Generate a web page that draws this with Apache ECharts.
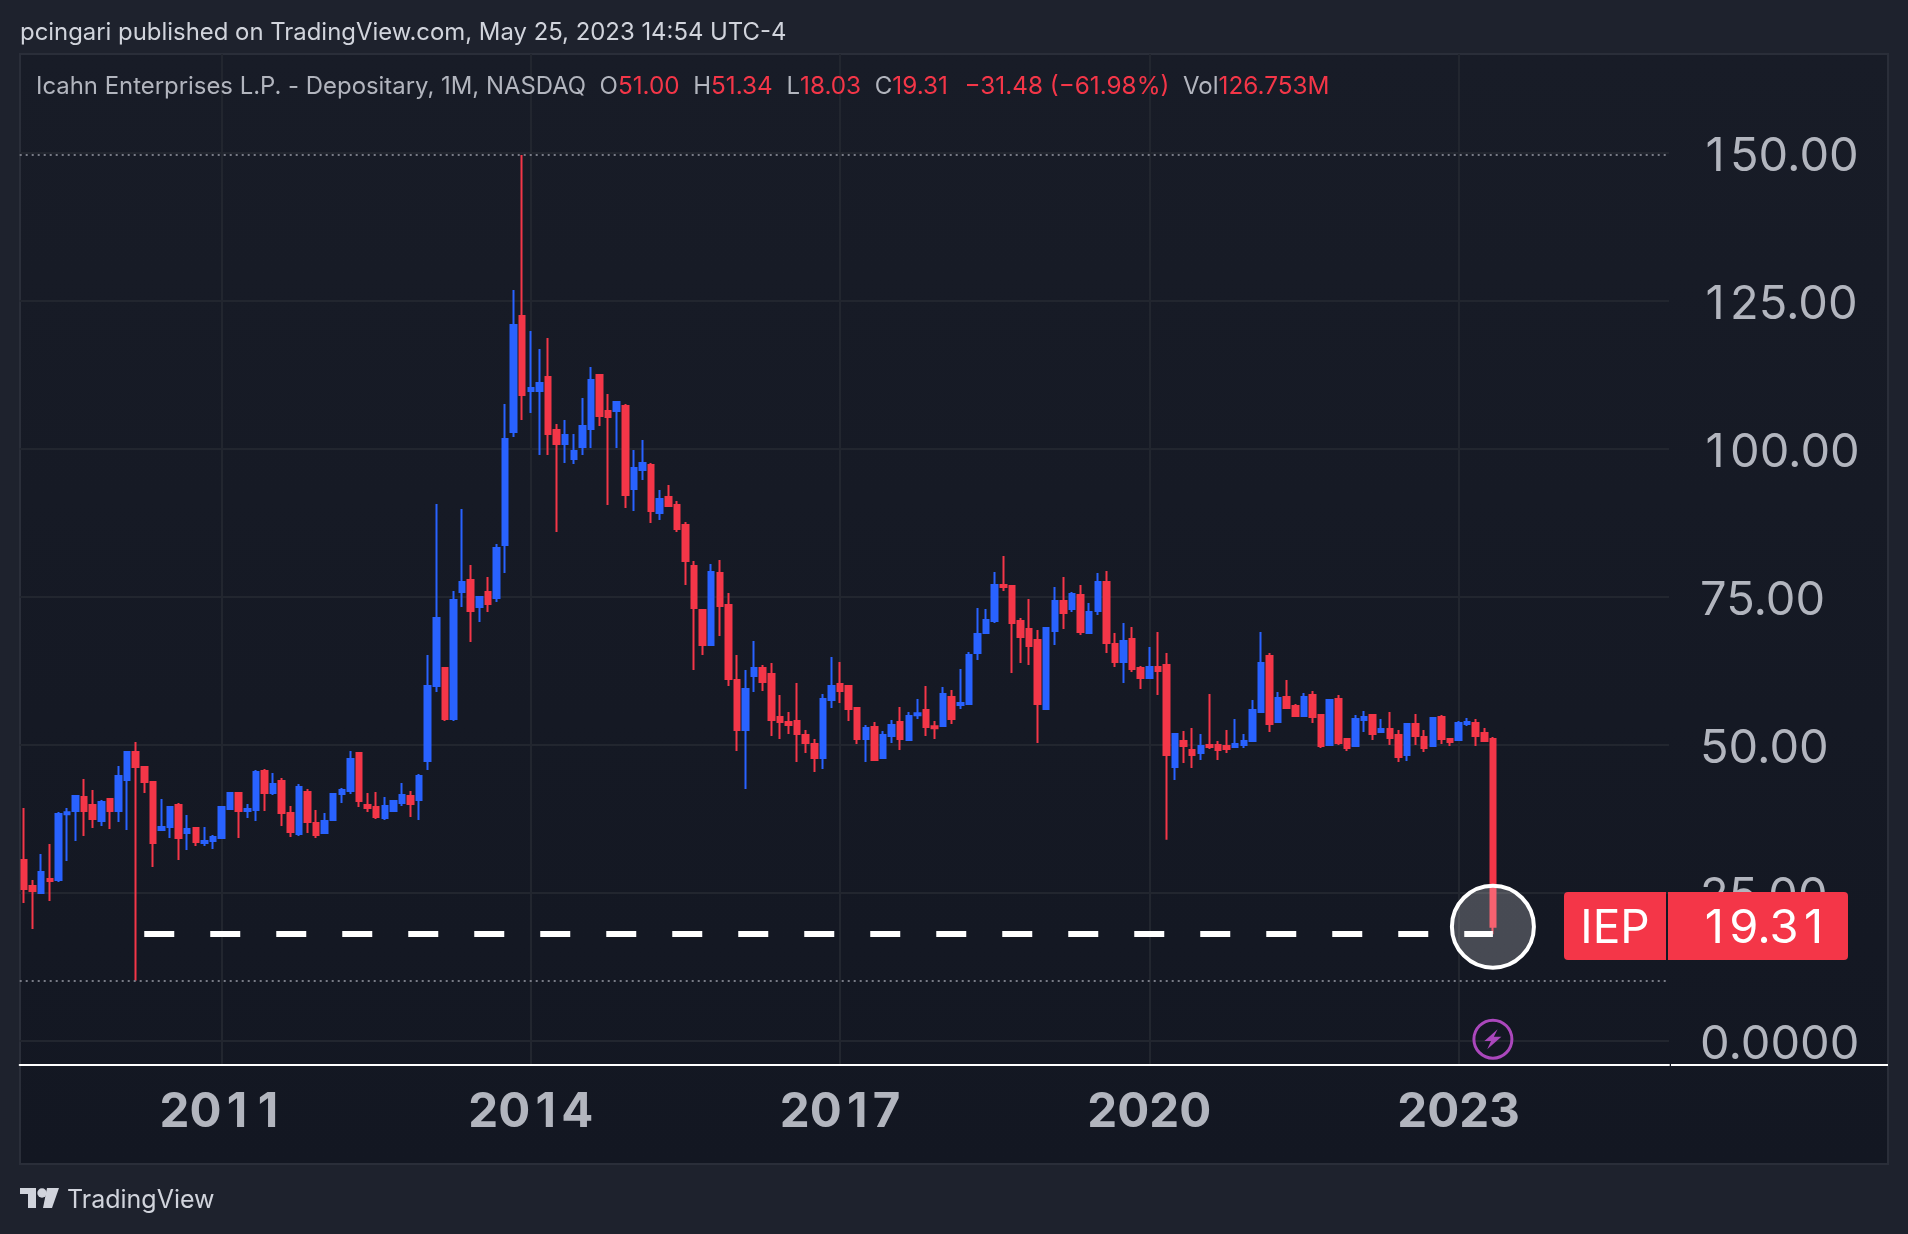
<!DOCTYPE html>
<html>
<head>
<meta charset="utf-8">
<title>IEP monthly</title>
<style>
    html, body { margin: 0; padding: 0; background: #1e222d; }
    #chart { width: 1908px; height: 1234px; }
</style>
<script src="https://cdn.jsdelivr.net/npm/echarts@6/dist/echarts.min.js"></script>
</head>
<body>
<div id="chart"></div>
<script>
// monthly candles, Feb 2009 to May 2023
const opens = [
    30.57,26.18,25.0,27.36,27.2,38.29,38.85,41.22,39.87,37.16,
    40.88,38.85,44.09,48.82,46.28,43.75,35.64,36.15,39.87,35.13,
    35.98,33.45,33.78,34.29,39.19,41.89,38.85,39.02,45.61,41.89,
    43.92,38.51,34.97,42.06,36.82,35.13,37.33,41.72,42.23,48.65,
    39.87,39.53,37.67,38.85,40.2,41.38,40.71,47.3,59.97,63.0,
    54.39,75.84,77.87,73.31,75.84,74.83,83.79,102.87,122.47,109.8,
    109.8,112.17,103.21,100.85,98.31,100.34,103.38,112.5,106.42,106.42,
    107.27,93.25,96.46,97.3,89.19,91.89,90.54,87.16,80.23,72.8,
    66.89,79.05,73.65,60.98,52.53,61.65,63.0,61.99,54.73,53.88,
    54.05,51.69,50.16,47.8,57.6,60.3,59.96,56.25,51.01,53.04,
    47.8,51.52,53.88,50.84,55.01,55.91,53.15,53.21,58.11,56.75,
    56.92,65.54,68.92,70.94,77.02,76.85,70.94,69.59,67.73,56.08,
    69.26,74.33,72.97,75.34,68.92,72.64,77.54,67.06,64.02,67.91,
    63.01,61.32,63.18,63.52,46.29,50.68,49.16,48.65,50.0,50.0,
    49.83,49.66,50.0,50.68,55.58,65.04,53.89,58.11,56.59,54.89,
    58.44,55.06,50.0,57.77,51.01,49.83,54.22,55.06,52.19,52.7,
    51.68,48.31,53.54,51.35,49.83,54.72,51.01,50.84,53.54,53.71,
    52.02,51.0
];
const closes = [
    25.68,25.34,28.55,27.03,38.34,38.63,41.38,38.85,37.5,40.37,
    38.85,44.76,48.82,46.28,43.75,33.45,36.15,39.53,34.29,35.81,
    33.62,33.78,34.46,39.53,41.89,38.85,39.19,45.44,41.89,43.41,
    38.51,35.3,42.91,37.0,34.8,37.16,41.72,42.4,47.64,40.54,
    39.36,37.84,39.7,40.54,41.55,40.03,44.76,59.97,71.45,54.39,
    74.49,77.53,72.63,75.0,73.82,83.28,101.69,120.95,109.12,110.3,
    111.15,102.54,100.85,102.37,99.67,103.89,111.66,105.58,105.41,107.94,
    92.23,96.79,97.64,89.53,91.56,90.38,86.49,81.08,73.14,66.89,
    79.22,73.48,61.14,52.53,59.46,63.0,60.64,54.22,53.88,53.38,
    51.85,50.33,47.8,57.77,59.96,59.12,56.08,51.01,52.87,47.46,
    51.69,53.38,51.01,54.9,55.35,53.04,52.81,58.61,54.39,57.09,
    65.2,68.75,71.11,77.02,76.69,70.6,68.24,66.72,56.92,69.76,
    74.33,72.3,75.51,69.09,72.47,77.54,67.23,64.02,67.57,62.84,
    61.32,63.18,62.5,48.31,51.86,49.83,48.31,49.83,49.66,49.16,
    49.33,50.17,50.68,55.91,63.85,53.55,57.94,56.25,54.9,58.1,
    54.72,49.83,57.6,50.33,49.49,54.39,54.72,51.85,52.7,51.18,
    47.97,53.54,51.52,49.49,54.55,51.01,50.5,53.71,53.88,51.52,
    50.67,19.31
];
const lows = [
    23.31,18.92,25.0,23.65,26.86,30.4,33.78,34.63,35.98,36.32,
    35.81,37.0,35.64,10.19,41.89,29.39,35.64,34.29,30.57,32.26,
    32.94,32.94,32.43,34.29,39.19,34.29,37.67,37.16,38.85,41.55,
    36.32,34.46,34.63,35.13,34.29,35.13,37.16,40.2,41.72,39.53,
    38.68,37.5,37.33,38.85,39.7,37.84,37.33,45.78,58.95,54.05,
    54.05,73.31,67.39,70.78,72.47,74.16,79.05,102.03,104.9,106.08,
    98.99,98.99,85.98,97.64,97.47,98.99,100.17,103.89,90.54,100.17,
    90.04,89.53,94.77,87.5,88.01,90.21,85.98,77.02,62.67,65.2,
    66.89,68.41,59.96,48.98,42.56,58.95,59.12,51.52,51.01,51.85,
    47.12,48.65,45.44,45.94,56.25,57.09,54.05,50.16,47.12,47.46,
    47.63,50.33,49.15,50.84,54.39,51.52,51.01,53.21,53.54,56.08,
    56.92,64.35,68.92,70.6,76.01,62.16,63.85,63.51,50.33,56.08,
    66.89,69.6,72.47,68.58,68.92,71.96,65.54,63.18,60.47,62.33,
    59.46,61.32,58.45,34.0,44.09,46.96,46.12,47.47,49.33,47.47,
    48.65,49.5,49.5,50.68,55.58,52.2,53.89,56.25,54.9,54.89,
    53.71,49.49,50.0,50.0,48.98,49.66,52.19,50.84,52.02,50.0,
    47.12,47.29,50.0,48.81,49.83,50.16,49.83,50.84,53.2,49.83,
    50.67,18.03
];
const highs = [
    39.36,27.2,31.59,33.28,38.68,39.36,41.38,44.26,42.4,40.71,
    40.88,46.45,48.99,50.51,46.28,43.92,40.88,39.53,40.2,38.18,
    35.98,36.15,34.8,39.53,42.06,41.89,40.03,45.78,45.95,45.27,
    44.43,39.7,43.41,42.57,39.02,38.51,41.72,42.74,48.99,48.65,
    41.89,42.06,41.22,40.71,43.58,42.23,45.1,65.2,90.71,63.0,
    76.0,89.86,80.41,75.17,78.38,83.95,107.6,126.86,149.66,119.94,
    116.9,118.75,104.23,104.9,102.54,108.62,113.85,112.5,109.29,107.94,
    107.6,99.83,101.52,97.64,93.08,93.92,91.22,87.67,81.08,72.97,
    80.57,81.25,75.67,65.2,62.67,67.56,63.51,63.85,58.44,55.57,
    60.47,52.53,51.01,58.61,64.86,64.02,59.96,56.41,53.38,53.88,
    52.36,54.22,56.41,55.57,57.77,59.96,54.05,59.79,59.29,62.83,
    65.71,73.14,72.97,79.22,81.92,76.85,71.45,74.66,69.42,69.76,
    76.69,78.38,75.85,77.03,73.99,79.06,79.39,68.92,70.61,69.93,
    63.35,66.56,69.09,65.54,52.03,52.37,52.87,51.86,58.62,50.68,
    52.54,54.39,51.86,57.6,69.09,65.54,58.95,60.98,56.93,58.78,
    59.12,55.23,57.77,58.44,51.18,55.06,55.74,55.23,54.39,55.57,
    52.53,53.71,55.23,52.53,54.72,55.06,51.18,54.05,54.55,54.39,
    52.87,51.34
];

const yTicks = [0, 25, 50, 75, 100, 125, 150];
const yearTicks = ['2011-01', '2014-01', '2017-01', '2020-01', '2023-01'];
const lastMonth = '2023-05';
const dashStartMonth = '2010-04';
const lastClose = 19.31;
const dashLevel = 18.07;
const dottedLevels = [149.66, 10.19];   // all-time high and low of the range
const markerLevel = 0.3;

const headerText = 'pcingari published on TradingView.com, May 25, 2023 14:54 UTC-4';
const symbolText = 'Icahn Enterprises L.P. - Depositary, 1M, NASDAQ';
const ohlcLabels = ['O', 'H', 'L', 'C', 'Vol'];
const ohlcValues = ['51.00', '51.34', '18.03', '19.31', '126.753M'];
const changeText = '\u221231.48 (\u221261.98%)';

const RED = '#f43648';
const BLUE = '#2962ff';
const GRID = '#22262f';
const TEXT = '#b2b5be';
const FONT = 'Inter';

// categories run past the last candle, the chart keeps empty room on the right
const months = [];
for (let i = 0; i < 192; i++) {
    const m = i + 1;    // start at Feb 2009
    months.push((2009 + Math.floor(m / 12)) + '-' + String(m % 12 + 1).padStart(2, '0'));
}
const candles = opens.map((o, i) => [o, closes[i], lows[i], highs[i]]);

// Inter's 1 is narrow, the reference has even digits: box every 1 to digit width
const evenOnes = (text) => text.replace(/1/g, '{one|1}');

// legend line: plain labels in grey, values in red
const legendRich = {
    s: { color: TEXT, fontFamily: FONT, fontSize: 23.9, fontWeight: 'normal' },
    g: { color: TEXT, fontFamily: FONT, fontSize: 24, fontWeight: 'normal' },
    r: { color: RED, fontFamily: FONT, fontSize: 24.3, fontWeight: 'normal' },
    c: { color: RED, fontFamily: FONT, fontSize: 24.3, fontWeight: 'normal', padding: [0, 0, 0, 3] }
};
let legendText = '{s|' + symbolText + '  }';
ohlcLabels.forEach((label, i) => {
    if (label === 'Vol') legendText += '{c|' + changeText + '  }';
    legendText += '{g|' + label + '}{r|' + ohlcValues[i] + '  }';
});

const chart = echarts.init(document.getElementById('chart'));

chart.setOption({
    animation: false,
    backgroundColor: '#1e222d',
    title: [
        {
            text: headerText,
            left: 20, top: 21, padding: 0,
            textStyle: { color: '#d1d4dc', fontFamily: FONT, fontSize: 23.9, fontWeight: 'normal' }
        },
        {
            text: legendText,
            left: 36, top: 75, padding: 0,
            textStyle: { rich: legendRich }
        }
    ],
    grid: { left: 19.7, right: 239, top: 54, bottom: 169 },
    xAxis: {
        type: 'category',
        data: months,
        axisLine: { onZero: false, lineStyle: { color: '#ffffff', width: 2 } },
        axisTick: { show: false },
        axisLabel: {
            interval: (i, name) => yearTicks.includes(name),
            formatter: (name) => evenOnes(name.slice(0, 4)),
            color: TEXT,
            fontFamily: FONT,
            fontSize: 47.5,
            fontWeight: 'bold',
            margin: 24,
            rich: {
                one: { width: 31, align: 'center', color: TEXT, fontFamily: FONT, fontSize: 47.5, fontWeight: 'bold' }
            }
        },
        splitLine: {
            show: true,
            alignWithLabel: true,
            interval: (i, name) => yearTicks.includes(name),
            lineStyle: { color: GRID, width: 2 }
        }
    },
    yAxis: {
        type: 'value',
        position: 'right',
        min: -4.05,
        max: 166.72,
        axisLine: { show: false },
        axisTick: { show: false, customValues: yTicks },
        axisLabel: {
            customValues: yTicks,
            formatter: (v) => (v === 0 ? '0.0000' : evenOnes(v.toFixed(2))),
            color: TEXT,
            fontFamily: FONT,
            fontSize: 47,
            margin: 31,
            padding: [7, 0, 0, 0],
            rich: {
                one: { width: 30, align: 'center', color: TEXT, fontFamily: FONT, fontSize: 47 }
            }
        },
        splitLine: { show: true, lineStyle: { color: GRID, width: 2 } }
    },
    series: [
        {
            type: 'candlestick',
            data: candles,
            barWidth: 6,
            clip: false,
            itemStyle: {
                color: BLUE,
                color0: RED,
                borderColor: BLUE,
                borderColor0: RED,
                borderWidth: 2
            },
            markLine: {
                silent: true,
                symbol: 'none',
                label: { show: false },
                data: [
                    { yAxis: dottedLevels[0], lineStyle: { color: '#787b86', width: 2, type: [2, 4] } },
                    { yAxis: dottedLevels[1], lineStyle: { color: '#787b86', width: 2, type: [2, 4] } },
                    [
                        { coord: [dashStartMonth, dashLevel], lineStyle: { color: '#ffffff', width: 6, type: [30, 36] } },
                        { coord: [lastMonth, dashLevel] }
                    ]
                ]
            },
            markPoint: {
                silent: true,
                label: { show: false },
                data: [
                    {
                        coord: [lastMonth, lastClose],
                        symbol: 'circle',
                        symbolSize: 82,
                        itemStyle: { color: 'rgba(255,255,255,0.22)', borderColor: '#ffffff', borderWidth: 4 }
                    },
                    {
                        coord: [lastMonth, markerLevel],
                        symbol: 'circle',
                        symbolSize: 38,
                        itemStyle: { color: 'rgba(0,0,0,0)', borderColor: '#ab47bc', borderWidth: 3 }
                    },
                    {
                        coord: [lastMonth, markerLevel],
                        symbol: 'path://M14 0 L0 14 L7 14 L3 24 L18 9 L10 9 Z',
                        symbolSize: [17, 20],
                        itemStyle: { color: '#ab47bc' }
                    }
                ]
            }
        }
    ],
    graphic: [
        // inner panel, slightly lighter at the top
        {
            type: 'rect', z: -1,
            shape: { x: 20, y: 54, width: 1868, height: 1110 },
            style: {
                fill: new echarts.graphic.LinearGradient(0, 0, 0, 1, [
                    { offset: 0, color: '#181c27' },
                    { offset: 1, color: '#131722' }
                ]),
                stroke: '#2a2e39',
                lineWidth: 2
            }
        },
        // bottom rule continues under the price scale
        {
            type: 'line', z: 5,
            shape: { x1: 1671, y1: 1065, x2: 1888, y2: 1065 },
            style: { stroke: '#ffffff', lineWidth: 2 }
        },
        // ticker and price tags
        {
            type: 'rect', z: 50,
            shape: { x: 1564, y: 892, width: 102, height: 68, r: [4, 0, 0, 4] },
            style: { fill: RED }
        },
        {
            type: 'rect', z: 50,
            shape: { x: 1668, y: 892, width: 180, height: 68, r: [0, 4, 4, 0] },
            style: { fill: RED }
        },
        {
            type: 'text', z: 51, x: 1615, y: 929,
            style: { text: 'IEP', fill: '#ffffff', font: '46px ' + FONT, align: 'center', verticalAlign: 'middle' }
        },
        {
            type: 'text', z: 51, x: 1764, y: 929,
            style: {
                text: evenOnes(lastClose.toFixed(2)),
                fill: '#ffffff',
                font: '47px ' + FONT,
                align: 'center',
                verticalAlign: 'middle',
                rich: { one: { width: 30, align: 'center', fill: '#ffffff', font: '47px ' + FONT } }
            }
        },
        // logo and name in the footer
        {
            type: 'polygon', z: 5,
            shape: { points: [[20, 1188], [36, 1188], [36, 1208], [28, 1208], [28, 1194], [20, 1194]] },
            style: { fill: '#d1d4dc' }
        },
        {
            type: 'circle', z: 5,
            shape: { cx: 42, cy: 1193, r: 4.7 },
            style: { fill: '#d1d4dc' }
        },
        {
            type: 'polygon', z: 5,
            shape: { points: [[47, 1188], [59, 1188], [52, 1208], [43, 1208]] },
            style: { fill: '#d1d4dc' }
        },
        {
            type: 'text', z: 5, x: 67, y: 1200,
            style: { text: 'TradingView', fill: '#d1d4dc', font: '25px ' + FONT, verticalAlign: 'middle' }
        }
    ]
});

window.addEventListener('resize', () => chart.resize());
</script>
</body>
</html>
